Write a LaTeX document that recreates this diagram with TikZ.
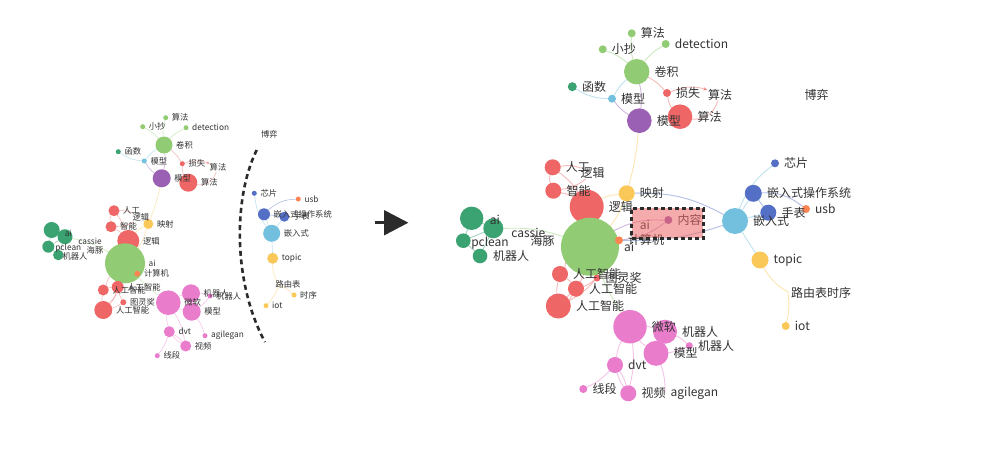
\documentclass[tikz,border=0pt]{standalone}
\usepackage{fontspec}
\setmainfont{Noto Sans CJK SC}
\usetikzlibrary{arrows.meta}
\pgfdeclarelayer{bg}
\pgfdeclarelayer{fg}
\pgfdeclarelayer{top}
\pgfsetlayers{bg,main,fg,top}
\definecolor{cgreen}{HTML}{91CC75}
\definecolor{cdkgreen}{HTML}{3BA272}
\definecolor{cyellow}{HTML}{FAC858}
\definecolor{cred}{HTML}{EE6666}
\definecolor{cltblue}{HTML}{73C0DE}
\definecolor{cblue}{HTML}{5470C6}
\definecolor{corange}{HTML}{FC8452}
\definecolor{cpurple}{HTML}{9A60B4}
\definecolor{cpink}{HTML}{EA7CCC}
\definecolor{txt}{HTML}{333333}
\definecolor{dark}{HTML}{2B2B2B}
\tikzset{
  gdot/.style={circle,inner sep=0pt,outer sep=0pt},
  Rlbl/.style={anchor=west,xshift=5pt,inner sep=0pt,font=\fontsize{12}{12}\selectfont,text=txt},
  Llbl/.style={anchor=west,xshift=3.5pt,inner sep=0pt,font=\fontsize{8.3}{8.3}\selectfont,text=txt},
  Rtxt/.style={inner sep=0pt,font=\fontsize{12}{12}\selectfont,text=txt},
  Ltxt/.style={inner sep=0pt,font=\fontsize{8.3}{8.3}\selectfont,text=txt},
  Redge/.style={line width=0.9pt,draw opacity=0.45},
  Ledge/.style={line width=0.6pt,draw opacity=0.45},
}
\newcommand\gn[7]{\node[gdot,fill=#5,minimum size={2*#4}] (#1) at (#2,#3) {};%
  \begin{pgfonlayer}{fg}\node[#7lbl] (#1t) at (#1.east) {#6};\end{pgfonlayer}}
\newcommand\tx[5][]{\begin{pgfonlayer}{fg}\node[#2,#1] (#3) at (#4) {#5};\end{pgfonlayer}}
\begin{document}
\begin{tikzpicture}[x=1pt,y=-1pt]
\useasboundingbox (0,0) rectangle (991,463);
\begin{pgfonlayer}{bg}
\fill[white] (0,0) rectangle (991,463);
\end{pgfonlayer}

% ================= LEFT GRAPH =================
\gn{L1}{165.7}{117.7}{2.5}{cgreen}{算法}{L}
\gn{L2}{142.7}{126.7}{2.5}{cgreen}{小抄}{L}
\gn{L3}{186}{127.7}{2.5}{cgreen}{detection}{L}
\gn{L4}{164}{145}{8.5}{cgreen}{卷积}{L}
\gn{L5}{118.3}{151.7}{2.5}{cdkgreen}{函数}{L}
\gn{L6}{144.3}{161}{2.5}{cltblue}{模型}{L}
\gn{L7}{182.3}{163.7}{2.5}{cred}{损失}{L}
\gn{L8}{161.7}{178.3}{9}{cpurple}{模型}{L}
\gn{L9}{188.3}{182.7}{9}{cred}{算法}{L}
\tx{Ltxt}{L9b}{218,167.7}{算法}
\gn{L10}{114}{210.7}{5.5}{cred}{人工}{L}
\tx{Ltxt}{L10b}{140.8,217.7}{逻辑}
\gn{L11}{111}{226.7}{5.5}{cred}{智能}{L}
\gn{L12}{148.3}{224}{5}{cyellow}{映射}{L}
\gn{L13}{128.3}{241}{11}{cred}{逻辑}{L}
\gn{L14}{125}{263.3}{20}{cgreen}{ai}{L}
\gn{L15}{137.3}{273.7}{3}{corange}{计算机}{L}
% green cluster
\node[gdot,fill=cdkgreen,minimum size=16] (Lg1) at (51.7,230) {};
\node[gdot,fill=cdkgreen,minimum size=15] (Lg2) at (65,236.7) {};
\node[gdot,fill=cdkgreen,minimum size=12] (Lg3) at (48.3,246.7) {};
\node[gdot,fill=cdkgreen,minimum size=10.5] (Lg4) at (58.3,255) {};
\tx{Ltxt}{Lg1t}{68.3,233.3}{ai}
\tx{Ltxt}{Lg2t}{90,241}{cassie}
\tx{Ltxt}{Lg3t}{68.3,248.3}{pclean}
\tx{Ltxt}{Lg5t}{95,250}{海豚}
\tx{Ltxt}{Lg4t}{75,256.7}{机器人}
% red ai cluster
\gn{L21}{103.3}{290}{5.5}{cred}{人工智能}{L}
\gn{L22}{117.7}{287}{6}{cred}{人工智能}{L}
\gn{L23}{123.3}{302.3}{3}{cred}{图灵奖}{L}
\gn{L24}{103.3}{310}{9}{cred}{人工智能}{L}
% pink cluster
\gn{L25}{168.3}{302.7}{12.3}{cpink}{微软}{L}
\gn{L27}{210}{296}{2.5}{cpink}{机器人}{L}
\gn{L26}{191}{293.3}{9}{cpink}{机器人}{L}
\gn{L28}{191.7}{311.7}{9}{cpink}{模型}{L}
\gn{L29}{169.3}{331.7}{5.5}{cpink}{dvt}{L}
\gn{L30}{157.3}{355.7}{2.5}{cpink}{线段}{L}
\gn{L31}{185.7}{346}{5.5}{cpink}{视频}{L}
\gn{L32}{205}{335.7}{2.5}{cpink}{agilegan}{L}
% embedded cluster
\gn{L40}{254.3}{193.3}{2.5}{cblue}{芯片}{L}
\gn{L41}{298.3}{199}{2.5}{corange}{usb}{L}
\gn{L42}{264}{214.3}{6}{cblue}{嵌入式操作系统}{L}
\gn{L43}{284.3}{216.7}{5}{cblue}{手表}{L}
\gn{L44}{271.7}{233.3}{8.5}{cltblue}{嵌入式}{L}
\gn{L45}{272.7}{258.3}{5.5}{cyellow}{topic}{L}
\coordinate (L46) at (279,285);
\tx{Ltxt}{L46t}{288,284.3}{路由表}
\gn{L47}{294}{295}{2.5}{cyellow}{时序}{L}
\gn{L48}{266}{305.7}{2.5}{cyellow}{iot}{L}
\tx{Ltxt}{Lboyi}{269.3,134}{博弈}

\begin{pgfonlayer}{bg}
\draw[Ledge,cgreen] (L4) to[bend left=10] (L1);
\draw[Ledge,cgreen] (L4) to[bend right=10] (L2);
\draw[Ledge,cgreen] (L4) to[bend left=10] (L3);
\draw[Ledge,cltblue] (L4) to[bend right=10] (L6);
\draw[Ledge,cltblue] (L5) to[bend right=15] (L6);
\draw[Ledge,cpurple] (L6) to[bend right=10] (L8);
\draw[Ledge,cpurple] (L4) to[bend left=10] (L8);
\draw[Ledge,cred] (L4) to[bend left=10] (L7);
\draw[Ledge,cred] (L7) to[bend right=15] (L9);
\draw[Ledge,cred,-{Stealth[length=3.5pt]}] (L7) to[bend left=20] (L9b);
\draw[Ledge,cred] (L9) to[bend right=40] (L9b);
\draw[Ledge,cyellow] (L8) to[bend left=5] (L12);
\draw[Ledge,cyellow] (L12) to[bend right=10] (L13);
\draw[Ledge,cyellow] (L12) to[bend left=10] (L14);
\draw[Ledge,cred] (L10) to[bend left=10] (L13);
\draw[Ledge,cred] (L11) to[bend left=10] (L13);
\draw[Ledge,cred] (L10) to[bend right=20] (L11);
\draw[Ledge,cred] (L10) to[bend left=15] (L10b);
\draw[Ledge,cred] (L11) to[bend right=15] (L10b);
\draw[Ledge,cred] (L13) to (L14);
\draw[Ledge,corange] (L15) to (L14);
\draw[Ledge,cdkgreen] (Lg1) to (Lg2);
\draw[Ledge,cdkgreen] (Lg1) to (Lg3);
\draw[Ledge,cdkgreen] (Lg2) to (Lg3);
\draw[Ledge,cdkgreen] (Lg3) to (Lg4);
\draw[Ledge,cdkgreen] (Lg2) to (Lg4);
\draw[Ledge,cgreen] (Lg2) to[bend left=10] (L14);
\draw[Ledge,cgreen] (L14) to[bend right=5] (L25);
\draw[Ledge,cred] (L21) to[bend left=10] (L22);
\draw[Ledge,cred] (L21) to[bend right=10] (L24);
\draw[Ledge,cred] (L22) to[bend left=15] (L24);
\draw[Ledge,cred] (L21) to[bend left=10] (L14);
\draw[Ledge,cred] (L22) to[bend right=10] (L23);
\draw[Ledge,cred] (L24) to[bend right=15] (L14);
\draw[Ledge,cred] (L23) to[bend left=10] (L24);
\draw[Ledge,cpink] (L25) to[bend left=10] (L26);
\draw[Ledge,cpink] (L25) to[bend right=10] (L28);
\draw[Ledge,cpink] (L26) to[bend left=15] (L28);
\draw[Ledge,cpink] (L26) to[bend left=10] (L27);
\draw[Ledge,cpink] (L28) to[bend right=10] (L27);
\draw[Ledge,cpink] (L28) to[bend left=10] (L32);
\draw[Ledge,cpink] (L25) to[bend right=10] (L29);
\draw[Ledge,cpink] (L25) to[bend left=10] (L31);
\draw[Ledge,cpink] (L29) to[bend left=10] (L31);
\draw[Ledge,cpink] (L29) to[bend right=10] (L31);
\draw[Ledge,cpink] (L29) to[bend left=10] (L30);
\draw[Ledge,cltblue] (L44) to[bend left=15] (L40);
\draw[Ledge,cltblue] (L44) to (L42);
\draw[Ledge,cltblue] (L44) to (L43);
\draw[Ledge,cblue] (L42) to (L43);
\draw[Ledge,cblue] (L42) to[bend left=20] (L41);
\draw[Ledge,cltblue] (L44) to (L45);
\draw[Ledge,cyellow] (L45) to[bend right=15] (L46);
\draw[Ledge,cyellow] (L46) to[bend left=10] (L47);
\draw[Ledge,cyellow] (L46) to[bend left=10] (L48);
\end{pgfonlayer}

% dashed separator arc
\draw[dark,line width=2.6pt,dash pattern=on 5pt off 3.6pt] (256.7,150) .. controls (233,198) and (233,283) .. (265,342);

% big arrow
\fill[dark] (375,221.3) rectangle (385,224.3);
\fill[dark] (384,210) -- (408.3,222.7) -- (384,235.5) -- cycle;

% ================= RIGHT GRAPH =================
\gn{R1}{631.7}{33.3}{4}{cgreen}{算法}{R}
\gn{R2}{602.7}{49.3}{4}{cgreen}{小抄}{R}
\gn{R3}{665.7}{44}{4}{cgreen}{detection}{R}
\gn{R4}{636.7}{71.7}{12.7}{cgreen}{卷积}{R}
\gn{R5}{572.3}{86.7}{4.5}{cdkgreen}{函数}{R}
\gn{R6}{612}{98.7}{4}{cltblue}{模型}{R}
\gn{R7}{667}{93}{4}{cred}{损失}{R}
\gn{R8}{639.3}{120.7}{12.3}{cpurple}{模型}{R}
\gn{R9}{680}{116.7}{12.3}{cred}{算法}{R}
\tx{Rtxt}{R9b}{720,95}{算法}
\gn{R10}{552.7}{167.3}{8}{cred}{人工}{R}
\tx{Rtxt}{R10b}{592.7,173.3}{逻辑}
\gn{R11}{553.3}{190.7}{8}{cred}{智能}{R}
\gn{R12}{626.7}{193.3}{8}{cyellow}{映射}{R}
\gn{R13}{586.7}{206.7}{17}{cred}{逻辑}{R}
\gn{R14}{590}{246.7}{29}{cgreen}{ai}{R}
\gn{R15}{619}{240.3}{4}{corange}{计算机}{R}
\gn{R16}{668.3}{220}{4}{cpurple}{内容}{R}
\tx{Rtxt}{R16b}{645,225}{ai}
% green cluster
\node[gdot,fill=cdkgreen,minimum size=23.4] (Rg1) at (471.7,218.3) {};
\node[gdot,fill=cdkgreen,minimum size=20] (Rg2) at (493.3,228.3) {};
\node[gdot,fill=cdkgreen,minimum size=14.6] (Rg3) at (463.3,240.7) {};
\node[gdot,fill=cdkgreen,minimum size=14.6] (Rg4) at (480,256) {};
\tx{Rtxt}{Rg1t}{495,220}{ai}
\tx{Rtxt}{Rg2t}{528.3,232.7}{cassie}
\tx{Rtxt}{Rg3t}{490,243.3}{pclean}
\tx{Rtxt}{Rg5t}{542.7,240.7}{海豚}
\tx{Rtxt}{Rg4t}{511,256}{机器人}
% red ai cluster
\gn{R21}{560}{274}{8}{cred}{人工智能}{R}
\gn{R23}{597}{278}{3.5}{cred}{图灵奖}{R}
\gn{R22}{576}{288.7}{8}{cred}{人工智能}{R}
\gn{R24}{558.3}{306}{12.5}{cred}{人工智能}{R}
% pink cluster
\gn{R25}{630}{326.7}{16.7}{cpink}{微软}{R}
\gn{R27}{689.3}{345.7}{3.5}{cpink}{机器人}{R}
\gn{R26}{665}{331.7}{12}{cpink}{机器人}{R}
\gn{R28}{656}{353.3}{12.5}{cpink}{模型}{R}
\gn{R29}{615}{365}{8}{cpink}{dvt}{R}
\gn{R30}{583.3}{389}{4}{cpink}{线段}{R}
\gn{R31}{628.3}{393.3}{8}{cpink}{视频}{R}
\coordinate (R32) at (665,393);
\tx[anchor=west]{Rtxt}{R32t}{670.5,393.3}{agilegan}
% embedded cluster
\gn{R40}{775}{163.3}{4}{cblue}{芯片}{R}
\gn{R42}{753.3}{193.3}{8.5}{cblue}{嵌入式操作系统}{R}
\gn{R41}{806}{209}{4}{corange}{usb}{R}
\gn{R43}{768.3}{212.7}{8}{cblue}{手表}{R}
\gn{R44}{735}{221}{13}{cltblue}{嵌入式}{R}
\gn{R45}{760}{260}{8.5}{cyellow}{topic}{R}
\coordinate (R46) at (788,292);
\tx[anchor=west]{Rtxt}{R46t}{791,293.3}{路由表时序}
\gn{R48}{785.7}{326}{4}{cyellow}{iot}{R}
\tx{Rtxt}{Rboyi}{816.7,95}{博弈}

\begin{pgfonlayer}{bg}
\draw[Redge,cgreen] (R4) to[bend left=10] (R1);
\draw[Redge,cgreen] (R4) to[bend right=10] (R2);
\draw[Redge,cgreen] (R4) to[bend left=10] (R3);
\draw[Redge,cltblue] (R4) to[bend right=10] (R6);
\draw[Redge,cltblue] (R5) to[bend right=15] (R6);
\draw[Redge,cpurple] (R6) to[bend right=10] (R8);
\draw[Redge,cpurple] (R4) to[bend left=10] (R8);
\draw[Redge,cred] (R4) to[bend left=10] (R7);
\draw[Redge,cred] (R7) to[bend right=15] (R9);
\draw[Redge,cred,-{Stealth[length=5pt]}] (R7) to[bend left=20] (R9b);
\draw[Redge,cred] (R9) to[bend right=40] (R9b);
\draw[Redge,cyellow] (R8) to[bend left=5] (R12);
\draw[Redge,cyellow] (R12) to[bend right=10] (R13);
\draw[Redge,cyellow] (R12) to[bend left=10] (R14);
\draw[Redge,cred] (R10) to[bend left=10] (R13);
\draw[Redge,cred] (R11) to[bend left=10] (R13);
\draw[Redge,cred] (R10) to[bend right=20] (R11);
\draw[Redge,cred] (R10) to[bend left=15] (R10b);
\draw[Redge,cred] (R11) to[bend right=15] (R10b);
\draw[Redge,cred] (R13) to (R14);
\draw[Redge,corange] (R15) to (R14);
\draw[Redge,cblue] (R12) to[bend left=15] (R44);
\draw[Redge,cblue] (R15) to[bend right=10] (R44);
\draw[Redge,cpurple] (R16) to[bend right=15] (R14);
\draw[Redge,cpurple] (R16) to[bend left=15] (R15);
\draw[Redge,cdkgreen] (Rg1) to (Rg2);
\draw[Redge,cdkgreen] (Rg1) to (Rg3);
\draw[Redge,cdkgreen] (Rg2) to (Rg3);
\draw[Redge,cdkgreen] (Rg3) to (Rg4);
\draw[Redge,cdkgreen] (Rg2) to (Rg4);
\draw[Redge,cgreen] (Rg2) to[bend left=10] (R14);
\draw[Redge,cgreen] (R14) to[bend right=5] (R25);
\draw[Redge,cred] (R21) to[bend left=10] (R22);
\draw[Redge,cred] (R21) to[bend right=10] (R24);
\draw[Redge,cred] (R22) to[bend left=15] (R24);
\draw[Redge,cred] (R21) to[bend left=10] (R14);
\draw[Redge,cred] (R22) to[bend right=10] (R23);
\draw[Redge,cred] (R24) to[bend right=15] (R14);
\draw[Redge,cred] (R23) to[bend left=10] (R24);
\draw[Redge,cpink] (R25) to[bend left=10] (R26);
\draw[Redge,cpink] (R25) to[bend right=10] (R28);
\draw[Redge,cpink] (R26) to[bend left=15] (R28);
\draw[Redge,cpink] (R26) to[bend left=10] (R27);
\draw[Redge,cpink] (R28) to[bend right=10] (R27);
\draw[Redge,cpink] (R28) to[bend left=10] (R32);
\draw[Redge,cpink] (R25) to[bend right=10] (R29);
\draw[Redge,cpink] (R25) to[bend left=10] (R31);
\draw[Redge,cpink] (R29) to[bend left=10] (R31);
\draw[Redge,cpink] (R29) to[bend right=10] (R31);
\draw[Redge,cpink] (R29) to[bend left=10] (R30);
\draw[Redge,cltblue] (R44) to[bend left=15] (R40);
\draw[Redge,cltblue] (R44) to (R42);
\draw[Redge,cltblue] (R44) to (R43);
\draw[Redge,cblue] (R42) to (R43);
\draw[Redge,cblue] (R42) to[bend left=20] (R41);
\draw[Redge,cltblue] (R44) to (R45);
\draw[Redge,cyellow] (R45) to[bend right=15] (R46);
\draw[Redge,cyellow] (R46) to[bend left=10] (R48);
\end{pgfonlayer}

% highlighted box over 内容
\begin{pgfonlayer}{top}
\node[draw=dark,line width=2.8pt,dash pattern=on 4pt off 3pt,fill=cred,fill opacity=0.55,
      minimum width=71.6,minimum height=30,inner sep=0pt] (Rbox) at (667.5,223.3) {};
\end{pgfonlayer}
\end{tikzpicture}
\end{document}
